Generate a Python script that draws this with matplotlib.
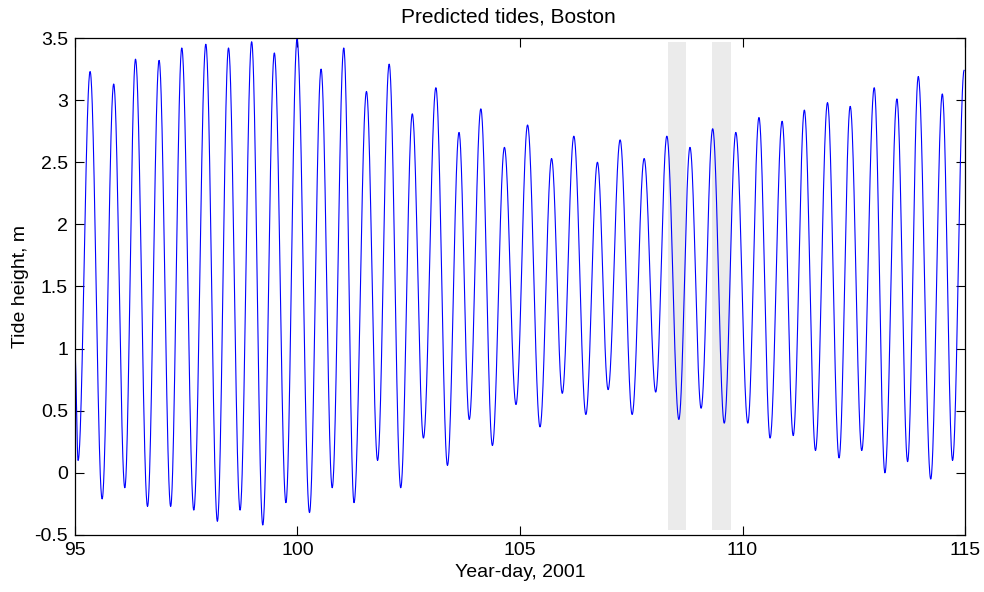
#!/usr/bin/env python3

import numpy as np
import matplotlib
matplotlib.use("Agg")
import matplotlib.pyplot as plt

# High waters (year-day, height in m)
high_days = [95.34, 95.87, 96.36, 96.89, 97.40, 97.94, 98.45, 98.97, 99.48, 99.99,
             100.53, 101.04, 101.55, 102.06, 102.58, 103.11, 103.63, 104.12, 104.65, 105.17,
             105.71, 106.21, 106.74, 107.25, 107.79, 108.30, 108.82, 109.33, 109.85, 110.37,
             110.89, 111.39, 111.91, 112.42, 112.96, 113.47, 113.95, 114.49, 114.98]
high_heights = [3.23, 3.13, 3.33, 3.32, 3.42, 3.45, 3.42, 3.47, 3.38, 3.49,
                3.25, 3.42, 3.07, 3.29, 2.89, 3.10, 2.74, 2.93, 2.62, 2.80,
                2.53, 2.71, 2.50, 2.68, 2.53, 2.71, 2.62, 2.77, 2.74, 2.86,
                2.83, 2.92, 2.98, 2.95, 3.10, 3.01, 3.19, 3.05, 3.24]

# Low waters (year-day, height in m)
low_days = [95.07, 95.61, 96.12, 96.63, 97.15, 97.67, 98.20, 98.71, 99.22, 99.74,
            100.27, 100.78, 101.27, 101.80, 102.32, 102.83, 103.37, 103.86, 104.38, 104.91,
            105.45, 105.95, 106.48, 106.98, 107.52, 108.05, 108.57, 109.07, 109.59, 110.12,
            110.62, 111.14, 111.64, 112.17, 112.68, 113.20, 113.71, 114.23, 114.72]
low_heights = [0.10, -0.21, -0.12, -0.27, -0.27, -0.30, -0.39, -0.30, -0.42, -0.24,
               -0.32, -0.12, -0.24, 0.10, -0.12, 0.28, 0.06, 0.43, 0.22, 0.55,
               0.37, 0.64, 0.47, 0.67, 0.47, 0.65, 0.43, 0.52, 0.40, 0.40,
               0.28, 0.30, 0.18, 0.12, 0.18, 0.00, 0.09, -0.05, 0.10]

# Height at the start of the record
start_day = 95.0
start_height = 0.95

# Highlighted windows (year-day ranges)
windows = [(108.33, 108.73), (109.31, 109.74)]


def tide_curve(days, heights, n=40):
    # half-cosine between successive high and low waters
    t_out = [days[0]]
    h_out = [heights[0]]
    for i in range(len(days) - 1):
        s = np.linspace(0, 1, n)[1:]
        t_out.extend(days[i] + s * (days[i + 1] - days[i]))
        h_out.extend(heights[i] + (heights[i + 1] - heights[i]) * (1 - np.cos(np.pi * s)) / 2)
    return np.array(t_out), np.array(h_out)


def main():
    plt.rcParams["font.family"] = ["Liberation Sans", "DejaVu Sans"]

    events = sorted(zip(high_days + low_days, high_heights + low_heights))
    days = [start_day] + [e[0] for e in events]
    heights = [start_height] + [e[1] for e in events]
    t, h = tide_curve(days, heights)

    fig = plt.figure(figsize=(9.84, 5.92), dpi=100)
    ax = fig.add_axes([0.0762, 0.0963, 0.9045, 0.8395])

    for lo, hi in windows:
        ax.axvspan(lo, hi, ymin=0.01, ymax=0.992, color="#ebebeb", lw=0, zorder=1)
    ax.plot(t, h, color=(0, 0, 1), lw=0.8, zorder=2)

    ax.set_xlim(95, 115)
    ax.set_ylim(-0.5, 3.5)
    ax.set_xticks([95, 100, 105, 110, 115])
    ax.set_yticks(np.arange(-0.5, 3.51, 0.5))
    ax.set_yticklabels(["-0.5", "0", "0.5", "1", "1.5", "2", "2.5", "3", "3.5"])
    ax.tick_params(direction="in", length=6.5, width=0.8, labelsize=14,
                   top=True, right=True)
    ax.tick_params(axis="x", pad=5)
    ax.tick_params(axis="y", pad=5)
    for sp in ax.spines.values():
        sp.set_linewidth(0.9)

    ax.set_title("Predicted tides, Boston", fontsize=15, pad=11, x=0.487)
    ax.set_xlabel("Year-day, 2001", fontsize=14, labelpad=4)
    ax.set_ylabel("Tide height, m", fontsize=14, labelpad=4)

    fig.savefig("out.png", dpi=100)


if __name__ == "__main__":
    main()
